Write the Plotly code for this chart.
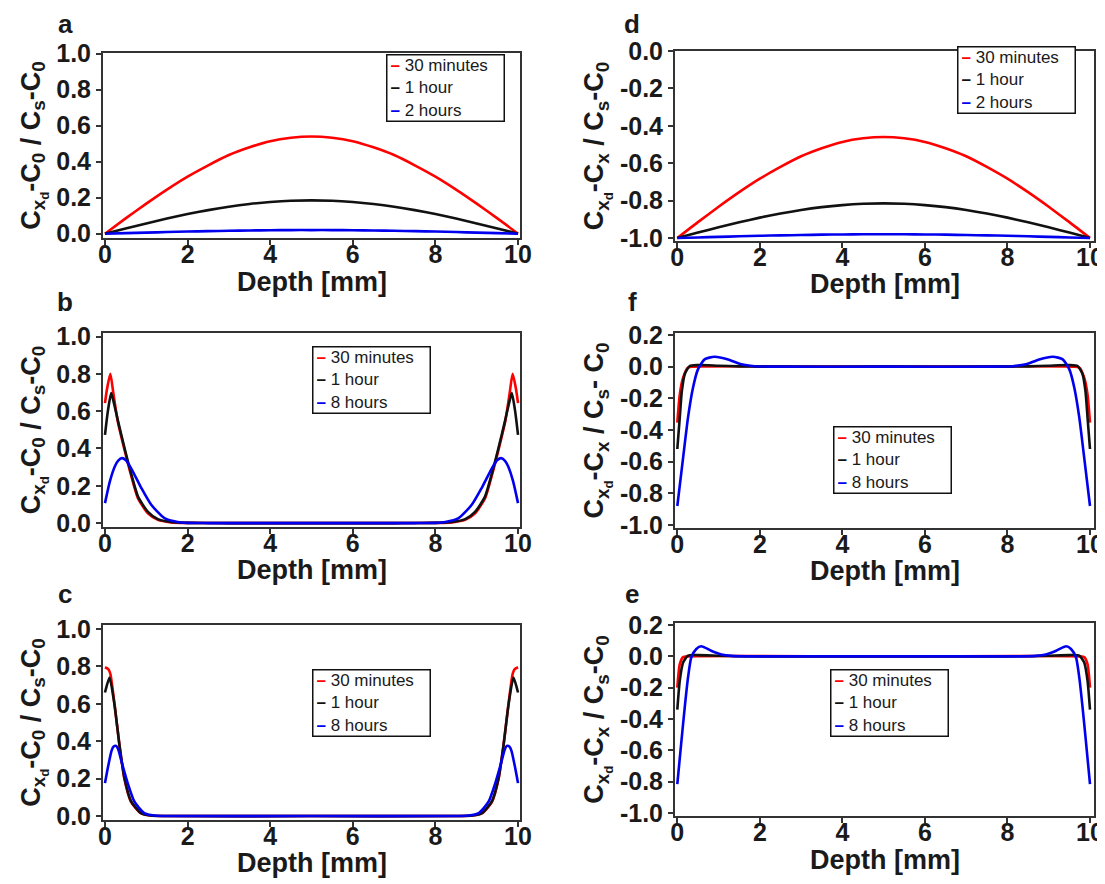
import plotly.graph_objects as go

W, H = 1105, 884

# ---------------- tick labels ----------------
depth_ticks = [0, 2, 4, 6, 8, 10]
pos_ticks = [0.0, 0.2, 0.4, 0.6, 0.8, 1.0]
pos_labels = ["0.0", "0.2", "0.4", "0.6", "0.8", "1.0"]
neg_ticks_d = [0.0, -0.2, -0.4, -0.6, -0.8, -1.0]
neg_labels_d = ["0.0", "-0.2", "-0.4", "-0.6", "-0.8", "-1.0"]
neg_ticks_fe = [0.2, 0.0, -0.2, -0.4, -0.6, -0.8, -1.0]
neg_labels_fe = ["0.2", "0.0", "-0.2", "-0.4", "-0.6", "-0.8", "-1.0"]
x_title = "Depth [mm]"

names_ad = ["30 minutes", "1 hour", "2 hours"]
names_bcef = ["30 minutes", "1 hour", "8 hours"]
colors = ["#ff0000", "#111111", "#0000ee"]

# ---------------- panel a ----------------
a_x = [0, 0.5, 1, 1.5, 2, 2.5, 3, 3.5, 4, 4.5, 5, 5.5, 6, 6.5, 7, 7.5, 8, 8.5, 9, 9.5, 10]
a_red = [0, 0.085, 0.167, 0.245, 0.317, 0.38, 0.437, 0.48, 0.514, 0.533, 0.54,
         0.533, 0.514, 0.48, 0.437, 0.38, 0.317, 0.245, 0.167, 0.085, 0]
a_black = [0, 0.029, 0.057, 0.084, 0.109, 0.131, 0.150, 0.165, 0.176, 0.183, 0.185,
           0.183, 0.176, 0.165, 0.150, 0.131, 0.109, 0.084, 0.057, 0.029, 0]
a_blue = [0, 0.003, 0.006, 0.009, 0.012, 0.014, 0.016, 0.018, 0.019, 0.020, 0.020,
          0.020, 0.019, 0.018, 0.016, 0.014, 0.012, 0.009, 0.006, 0.003, 0]

# ---------------- panel d ----------------
d_x = [0, 0.5, 1, 1.5, 2, 2.5, 3, 3.5, 4, 4.5, 5, 5.5, 6, 6.5, 7, 7.5, 8, 8.5, 9, 9.5, 10]
d_red = [-1.0, -0.915, -0.833, -0.755, -0.683, -0.62, -0.563, -0.52, -0.486, -0.467, -0.46,
         -0.467, -0.486, -0.52, -0.563, -0.62, -0.683, -0.755, -0.833, -0.915, -1.0]
d_black = [-1.0, -0.971, -0.943, -0.916, -0.891, -0.869, -0.850, -0.835, -0.824, -0.817, -0.815,
           -0.817, -0.824, -0.835, -0.850, -0.869, -0.891, -0.916, -0.943, -0.971, -1.0]
d_blue = [-1.0, -0.997, -0.994, -0.991, -0.988, -0.986, -0.984, -0.982, -0.981, -0.980, -0.980,
          -0.980, -0.981, -0.982, -0.984, -0.986, -0.988, -0.991, -0.994, -0.997, -1.0]

# ---------------- panel b ----------------
b_x_red = [0, 0.05, 0.13, 0.2, 0.31, 0.47, 0.63, 0.8, 1.04, 1.28, 1.6, 2.0, 3.0, 5.0, 7.0,
           8.0, 8.4, 8.72, 8.96, 9.2, 9.37, 9.53, 9.69, 9.8, 9.87, 9.95, 10]
b_red = [0.643, 0.72, 0.80, 0.70, 0.545, 0.395, 0.258, 0.132, 0.052, 0.017, 0.004, 0.001, 0, 0, 0,
         0.001, 0.004, 0.017, 0.052, 0.132, 0.258, 0.395, 0.545, 0.70, 0.80, 0.72, 0.643]
b_x_black = [0, 0.07, 0.15, 0.22, 0.31, 0.47, 0.63, 0.8, 1.04, 1.28, 1.6, 2.0, 3.0, 5.0, 7.0,
             8.0, 8.4, 8.72, 8.96, 9.2, 9.37, 9.53, 9.69, 9.78, 9.85, 9.93, 10]
b_black = [0.473, 0.60, 0.697, 0.64, 0.552, 0.405, 0.268, 0.142, 0.06, 0.021, 0.006, 0.001, 0, 0, 0,
           0.001, 0.006, 0.021, 0.06, 0.142, 0.268, 0.405, 0.552, 0.64, 0.697, 0.60, 0.473]
b_x_blue = [0, 0.12, 0.24, 0.32, 0.41, 0.5, 0.63, 0.88, 1.12, 1.44, 1.76, 2.0, 2.5, 5.0, 7.5,
            8.0, 8.24, 8.56, 8.88, 9.12, 9.37, 9.5, 9.59, 9.68, 9.76, 9.88, 10]
b_blue = [0.107, 0.225, 0.305, 0.335, 0.348, 0.338, 0.295, 0.188, 0.098, 0.027, 0.006, 0.001, 0, 0, 0,
          0.001, 0.006, 0.027, 0.098, 0.188, 0.295, 0.338, 0.348, 0.335, 0.305, 0.225, 0.107]

# ---------------- panel c ----------------
c_x_red = [0, 0.08, 0.13, 0.23, 0.35, 0.47, 0.63, 0.87, 1.1, 1.5, 5.0,
           8.5, 8.9, 9.13, 9.37, 9.53, 9.65, 9.77, 9.87, 9.92, 10]
c_red = [0.795, 0.785, 0.76, 0.60, 0.38, 0.20, 0.076, 0.015, 0.003, 0, 0,
         0, 0.003, 0.015, 0.076, 0.20, 0.38, 0.60, 0.76, 0.785, 0.795]
c_x_black = [0, 0.11, 0.23, 0.35, 0.47, 0.63, 0.87, 1.1, 1.5, 5.0,
             8.5, 8.9, 9.13, 9.37, 9.53, 9.65, 9.77, 9.89, 10]
c_black = [0.66, 0.74, 0.595, 0.38, 0.203, 0.08, 0.016, 0.003, 0, 0,
           0, 0.003, 0.016, 0.08, 0.203, 0.38, 0.595, 0.74, 0.66]
c_x_blue = [0, 0.08, 0.16, 0.21, 0.27, 0.33, 0.39, 0.55, 0.71, 0.95, 1.2, 1.6, 5.0,
            8.4, 8.8, 9.05, 9.29, 9.45, 9.61, 9.67, 9.73, 9.79, 9.84, 9.92, 10]
c_blue = [0.176, 0.27, 0.35, 0.372, 0.375, 0.35, 0.30, 0.176, 0.078, 0.016, 0.003, 0, 0,
          0, 0.003, 0.016, 0.078, 0.176, 0.30, 0.35, 0.375, 0.372, 0.35, 0.27, 0.176]

# ---------------- panel f ----------------
f_x_red = [0, 0.06, 0.14, 0.26, 0.4, 5.0, 9.6, 9.74, 9.86, 9.94, 10]
f_red = [-0.354, -0.175, -0.07, -0.006, 0, 0, 0, -0.006, -0.07, -0.175, -0.354]
f_x_black = [0, 0.06, 0.11, 0.18, 0.30, 0.5, 1.0, 1.5, 2.0, 5.0,
             8.0, 8.5, 9.0, 9.5, 9.7, 9.82, 9.89, 9.94, 10]
f_black = [-0.52, -0.32, -0.155, -0.048, 0.004, 0.01, 0.006, 0.002, 0, 0,
           0, 0.002, 0.006, 0.01, 0.004, -0.048, -0.155, -0.32, -0.52]
f_x_blue = [0, 0.14, 0.26, 0.38, 0.50, 0.66, 0.9, 1.23, 1.55, 1.87, 2.3, 5.0,
            7.7, 8.13, 8.45, 8.77, 9.1, 9.34, 9.5, 9.62, 9.74, 9.86, 10]
f_blue = [-0.88, -0.576, -0.32, -0.133, -0.017, 0.046, 0.063, 0.046, 0.015, 0.003, 0, 0,
          0, 0.003, 0.015, 0.046, 0.063, 0.046, -0.017, -0.133, -0.32, -0.576, -0.88]

# ---------------- panel e ----------------
e_x_red = [0, 0.06, 0.14, 0.25, 5.0, 9.75, 9.86, 9.94, 10]
e_red = [-0.20, -0.05, -0.005, 0, 0, 0, -0.005, -0.05, -0.20]
e_x_black = [0, 0.06, 0.14, 0.26, 0.5, 1.0, 1.5, 2.0, 5.0,
             8.0, 8.5, 9.0, 9.5, 9.74, 9.86, 9.94, 10]
e_black = [-0.34, -0.155, -0.04, 0.005, 0.008, 0.004, 0.001, 0, 0,
           0, 0.001, 0.004, 0.008, 0.005, -0.04, -0.155, -0.34]
e_x_blue = [0, 0.10, 0.18, 0.26, 0.34, 0.46, 0.58, 0.82, 1.07, 1.31, 1.7, 5.0,
            8.3, 8.69, 8.93, 9.18, 9.42, 9.54, 9.66, 9.74, 9.82, 9.90, 10]
e_blue = [-0.815, -0.54, -0.325, -0.134, -0.006, 0.047, 0.064, 0.036, 0.012, 0.003, 0, 0,
          0, 0.003, 0.012, 0.036, 0.064, 0.047, -0.006, -0.134, -0.325, -0.54, -0.815]

FONT = "Liberation Sans, Arial, sans-serif"
INK = "#1a1a1a"
AXC = "#333333"

ytitle_left = "C<sub>x<sub>d</sub></sub>-C<sub>0</sub> / C<sub>s</sub>-C<sub>0</sub>"
ytitle_right = "C<sub>x<sub>d</sub></sub>-C<sub>x</sub> / C<sub>s</sub>-C<sub>0</sub>"
ytitle_f = "C<sub>x<sub>d</sub></sub>-C<sub>x</sub> / C<sub>s</sub>- C<sub>0</sub>"


def px_x(p):
    return p / W


def px_y(p):
    return 1 - p / H


panels = [
    dict(letter="a", xd=(95, 512), yd=(45, 230), xr=[-0.048, 10.048], yr=[-0.024, 1.004],
         tv=pos_ticks, tt=pos_labels, yt=ytitle_left, names=names_ad,
         series=[(a_x, a_red), (a_x, a_black), (a_x, a_blue)],
         leg=(378, 46), let=(57, 16), xt=274),
    dict(letter="b", xd=(95, 512), yd=(325, 519), xr=[-0.048, 10.048], yr=[-0.021, 1.019],
         tv=pos_ticks, tt=pos_labels, yt=ytitle_left, names=names_bcef,
         series=[(b_x_red, b_red), (b_x_black, b_black), (b_x_blue, b_blue)],
         leg=(304, 338), let=(57, 294), xt=562),
    dict(letter="c", xd=(95, 512), yd=(617, 812), xr=[-0.048, 10.048], yr=[-0.021, 1.021],
         tv=pos_ticks, tt=pos_labels, yt=ytitle_left, names=names_bcef,
         series=[(c_x_red, c_red), (c_x_black, c_black), (c_x_blue, c_blue)],
         leg=(304, 661), let=(57, 586), xt=855),
    dict(letter="d", xd=(667, 1086), yd=(43, 233), xr=[-0.056, 10.097], yr=[-1.016, 0.0],
         tv=neg_ticks_d, tt=neg_labels_d, yt=ytitle_right, names=names_ad,
         series=[(d_x, d_red), (d_x, d_black), (d_x, d_blue)],
         leg=(949, 38), let=(624, 16), xt=276),
    dict(letter="f", xd=(667, 1086), yd=(325, 520), xr=[-0.056, 10.097], yr=[-1.019, 0.2126],
         tv=neg_ticks_fe, tt=neg_labels_fe, yt=ytitle_f, names=names_bcef,
         series=[(f_x_red, f_red), (f_x_black, f_black), (f_x_blue, f_blue)],
         leg=(825, 418), let=(624, 294), xt=563),
    dict(letter="e", xd=(667, 1086), yd=(615, 808), xr=[-0.056, 10.097], yr=[-1.019, 0.2128],
         tv=neg_ticks_fe, tt=neg_labels_fe, yt=ytitle_right, names=names_bcef,
         series=[(e_x_red, e_red), (e_x_black, e_black), (e_x_blue, e_blue)],
         leg=(822, 661), let=(624, 586), xt=852),
]

fig = go.Figure()
annotations = []
layout_axes = {}

for i, p in enumerate(panels, start=1):
    sfx = "" if i == 1 else str(i)
    xa, ya = "x" + sfx, "y" + sfx
    for (xs, ys), col, nm in zip(p["series"], colors, p["names"]):
        fig.add_trace(go.Scatter(
            x=xs, y=ys, mode="lines", name=nm, showlegend=False,
            line=dict(color=col, width=2.6, shape="spline", smoothing=0.6),
            xaxis=xa, yaxis=ya, hoverinfo="skip"))

    axis_common = dict(showgrid=False, zeroline=False, showline=True, mirror=True,
                       linecolor=AXC, linewidth=2, ticks="outside", ticklen=5,
                       tickwidth=2, tickcolor=AXC, automargin=False,
                       tickfont=dict(family=FONT, size=25, color=INK, weight="bold"))
    layout_axes["xaxis" + sfx] = dict(
        axis_common, domain=[px_x(p["xd"][0]), px_x(p["xd"][1])], range=p["xr"],
        tickvals=depth_ticks, anchor=ya, ticklabelstandoff=-12)
    layout_axes["yaxis" + sfx] = dict(
        axis_common, domain=[px_y(p["yd"][1]), px_y(p["yd"][0])], range=p["yr"],
        tickvals=p["tv"], ticktext=p["tt"], anchor=xa,
        title=dict(text=p["yt"], standoff=8,
                   font=dict(family=FONT, size=27, color=INK, weight="bold")))

    # x-axis title
    annotations.append(dict(
        text=x_title, x=px_x((p["xd"][0] + p["xd"][1]) / 2), y=px_y(p["xt"]),
        xref="paper", yref="paper", xanchor="center", yanchor="middle", showarrow=False,
        font=dict(family=FONT, size=27, color=INK, weight="bold")))

    # panel letter
    annotations.append(dict(
        text=p["letter"], x=px_x(p["let"][0]), y=px_y(p["let"][1]), xref="paper", yref="paper",
        xanchor="center", yanchor="middle", showarrow=False,
        font=dict(family=FONT, size=26, color=INK, weight="bold")))

    # legend box
    lx, ly = p["leg"]
    lines = ["<span style='color:%s'><b>\u2013</b></span> %s" % (c, n)
             for c, n in zip(colors, p["names"])]
    annotations.append(dict(
        text="<br>".join(lines), x=px_x(lx), y=px_y(ly), xref="paper", yref="paper",
        xanchor="left", yanchor="top", showarrow=False, align="left",
        width=110, height=59, borderpad=3, bordercolor="#111111", borderwidth=1.5,
        bgcolor="white", font=dict(family=FONT, size=17, color=INK)))

fig.update_layout(
    width=W, height=H, margin=dict(l=0, r=0, t=0, b=0, autoexpand=False),
    paper_bgcolor="white", plot_bgcolor="white", showlegend=False,
    annotations=annotations, **layout_axes)

fig.write_html("out.html")
